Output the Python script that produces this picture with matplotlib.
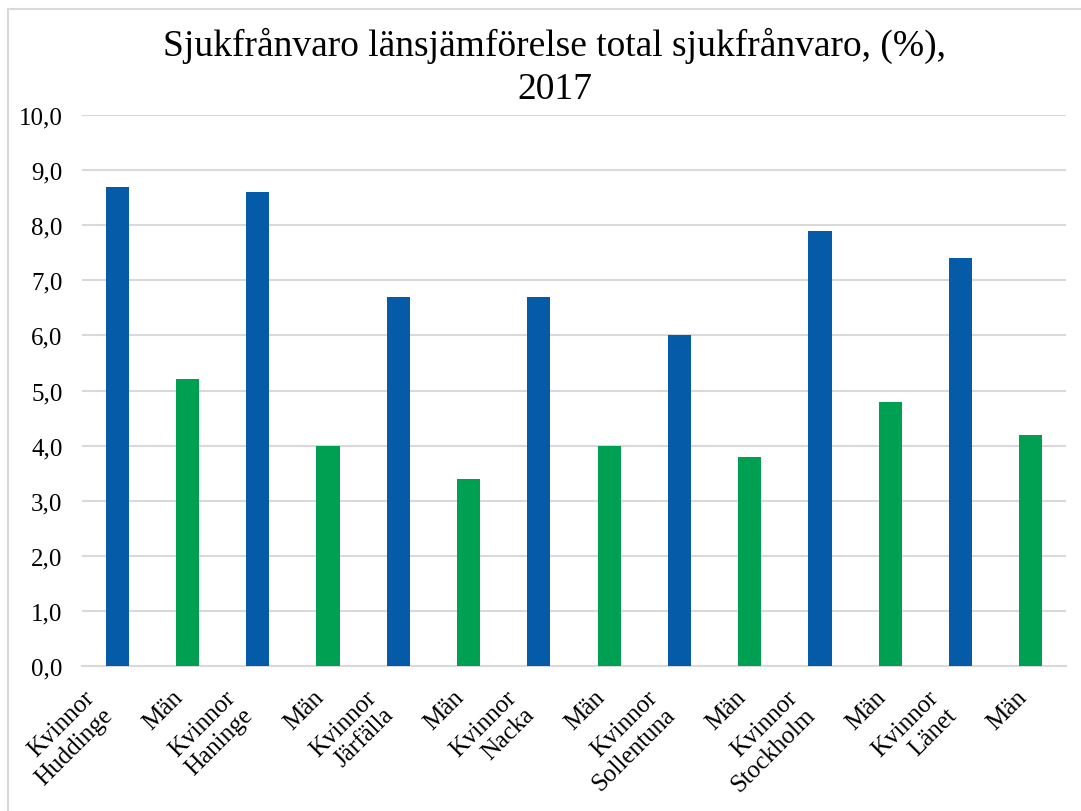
import matplotlib
matplotlib.use('Agg')
import matplotlib.pyplot as plt
from matplotlib.patches import Rectangle

# Data
labels = ['Kvinnor\nHuddinge', 'Män', 'Kvinnor\nHaninge', 'Män', 'Kvinnor\nJärfälla', 'Män',
          'Kvinnor\nNacka', 'Män', 'Kvinnor\nSollentuna', 'Män', 'Kvinnor\nStockholm', 'Män',
          'Kvinnor\nLänet', 'Män']
values = [8.7, 5.2, 8.6, 4.0, 6.7, 3.4, 6.7, 4.0, 6.0, 3.8, 7.9, 4.8, 7.4, 4.2]
yticks = [0, 1, 2, 3, 4, 5, 6, 7, 8, 9, 10]

blue = '#065BA9'
green = '#00A052'
colors = [blue if l.startswith('Kvinnor') else green for l in labels]

plt.rcParams['font.family'] = ['Liberation Serif', 'DejaVu Serif']

fig = plt.figure(figsize=(10.81, 8.12), dpi=100)
# chart border
fig.patches.append(Rectangle((8 / 1081, -0.1), 1.2, 1 - 10 / 812 + 0.1, transform=fig.transFigure,
                             fill=False, edgecolor='#d9d9d9', linewidth=1.5))

ax = fig.add_axes([82 / 1081, 1 - 667 / 812, (1066 - 82) / 1081, (667 - 116) / 812])
x = range(len(values))
ax.bar(x, values, width=0.33, color=colors, zorder=3)

ax.set_xlim(-0.5, len(values) - 0.5)
ax.set_ylim(0, 10)
ax.set_yticks(yticks)
ax.set_yticklabels([f'{v:.1f}'.replace('.', ',') for v in yticks], fontsize=18)
ax.set_xticks(list(x))
ax.set_xticklabels(labels, fontsize=18, rotation=45, ha='right', va='top',
                   linespacing=1.2)
ax.tick_params(axis='y', length=0, pad=14)
ax.tick_params(axis='x', length=0, pad=14)

ax.grid(axis='y', color='#d9d9d9', linewidth=1.5, zorder=0)
for s in ['top', 'right', 'left']:
    ax.spines[s].set_visible(False)
ax.spines['bottom'].set_color('#d9d9d9')
ax.spines['bottom'].set_linewidth(1.5)

fig.text(0.513, 0.917, 'Sjukfrånvaro länsjämförelse total sjukfrånvaro, (%),\n2017',
         ha='center', va='center', fontsize=27, linespacing=1.35)

fig.savefig('out.png', dpi=100)
